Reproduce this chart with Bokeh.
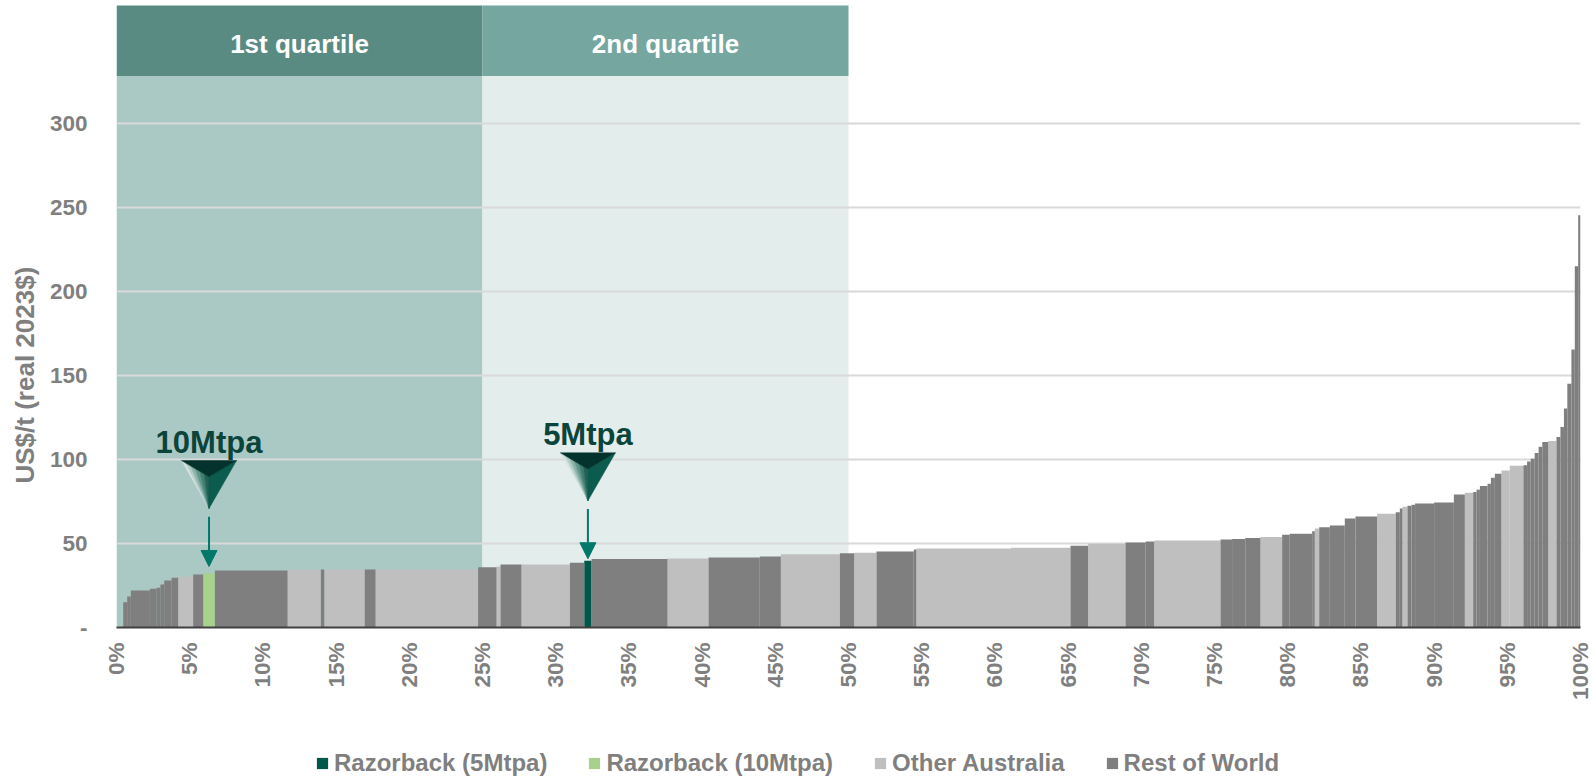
import math
from bokeh.plotting import figure
from bokeh.layouts import column
from bokeh.models import (ColumnDataSource, Range1d, FixedTicker, Legend, LegendItem,
                          Title, Arrow, NormalHead, PrintfTickFormatter)
from bokeh.core.properties import value
from bokeh.embed import file_html
from bokeh.resources import INLINE

# ---------------- data ----------------
# cumulative capacity (%) at the left edge of each bar; the last bar ends at 100 %
cap_left = [0.46, 0.73, 0.98, 2.28, 2.73, 3.00, 3.26, 3.76, 4.21, 5.24,
            5.92, 6.72, 11.68, 13.96, 14.19, 16.96, 17.69, 24.70, 25.96, 26.23,
            27.66, 30.97, 31.95, 32.45, 37.64, 40.44, 43.94, 45.38, 49.41, 50.39,
            51.91, 54.46, 54.64, 61.10, 65.16, 66.37, 68.92, 70.30, 70.88, 75.41,
            76.20, 77.10, 78.14, 79.62, 80.14, 81.67, 81.85, 82.15, 82.88, 83.90,
            84.63, 86.11, 87.38, 87.66, 87.84, 88.18, 88.46, 88.70, 90.00, 91.35,
            92.10, 92.67, 92.90, 93.13, 93.65, 93.88, 94.15, 94.60, 95.17, 96.10,
            96.35, 96.60, 96.87, 97.14, 97.39, 97.80, 98.36, 98.63, 98.87, 99.10,
            99.38, 99.61, 99.84]
cap_end = 100.0
# cost, US$/t (real 2023$)
cost = [15.0, 18.5, 22.0, 23.0, 23.6, 25.6, 28.0, 29.6, 30.4, 31.5,
        32.3, 33.9, 34.3, 34.5, 34.5, 34.5, 34.5, 35.9, 36.3, 37.5,
        37.5, 38.5, 39.7, 40.7, 41.1, 41.7, 42.3, 43.5, 44.2, 44.4,
        45.2, 46.4, 47.0, 47.5, 48.6, 49.8, 50.6, 51.2, 51.8, 52.3,
        52.7, 53.2, 53.8, 55.2, 55.8, 57.3, 58.9, 59.7, 60.7, 64.9,
        66.1, 67.7, 68.5, 70.8, 71.8, 72.4, 73.0, 73.8, 74.3, 79.1,
        80.2, 80.6, 82.0, 84.1, 85.5, 89.1, 91.5, 93.4, 96.2, 96.5,
        98.8, 100.4, 103.8, 107.5, 110.3, 110.9, 113.3, 119.2, 130.2, 145.0,
        165.3, 214.9, 245.2]
# R = Rest of World, A = Other Australia, G = Razorback (10Mtpa), K = Razorback (5Mtpa)
group_code = list("RRRRRRRR" "ARGRARARARAR" "ARKRARRARARRAA"
                  "RARRARRRARRRARRRRARRARRRRR" "A" "RRRRRR" "AA" "RRRRRR" "A" "RRRRRRR")

series_names = ["Razorback (5Mtpa)", "Razorback (10Mtpa)", "Other Australia", "Rest of World"]
series_codes = ["K", "G", "A", "R"]
series_colors = ["#02574b", "#a9d18e", "#bfbfbf", "#7f7f7f"]

quartile_names = ["1st quartile", "2nd quartile"]
quartile_from = [0, 25]
quartile_to = [25, 50]
quartile_body_colors = ["#aac9c4", "#e3edec"]
quartile_head_colors = ["#5a8b83", "#75a69f"]

x_ticks = list(range(0, 101, 5))
y_ticks = [0, 50, 100, 150, 200, 250, 300]

callout_labels = ["10Mtpa", "5Mtpa"]
callout_codes = ["G", "K"]
callout_gap = [4.0, 1.2]

# ---------------- figure ----------------
FONT = "Liberation Sans"
GREY = "#7f7f7f"
TEAL = "#00796b"

cap_right = cap_left[1:] + [cap_end]

p = figure(width=1594, height=735, output_backend="svg", toolbar_location=None,
           x_range=Range1d(0, 100), y_range=Range1d(0, 370),
           min_border_left=115, min_border_right=14, min_border_top=5,
           min_border_bottom=108)
p.outline_line_color = None
p.background_fill_color = "white"
p.border_fill_color = "white"

# quartile shading and header bands
p.quad(left=quartile_from, right=quartile_to, bottom=0, top=328,
       fill_color=quartile_body_colors, line_color=None, level="image")
p.quad(left=quartile_from, right=quartile_to, bottom=328, top=400,
       fill_color=quartile_head_colors, line_color=None, level="image")
p.text(x=[(a + b) / 2 for a, b in zip(quartile_from, quartile_to)], y=[347.2] * 2,
       text=quartile_names, text_align="center", text_baseline="middle",
       text_color="white", text_font=value(FONT), text_font_style="bold",
       text_font_size="26px")

# grid
p.xgrid.visible = False
p.ygrid.ticker = FixedTicker(ticks=y_ticks[1:])
p.ygrid.grid_line_color = "#d9d9d9"
p.ygrid.grid_line_width = 2

# bars
for name, code, color in zip(series_names, series_codes, series_colors):
    idx = [i for i, g in enumerate(group_code) if g == code]
    src = ColumnDataSource(dict(left=[cap_left[i] for i in idx],
                                right=[cap_right[i] for i in idx],
                                top=[cost[i] for i in idx]))
    p.quad(left="left", right="right", top="top", bottom=0,
           source=src, fill_color=color, line_color=None)

# callouts (arrow + pyramid marker + label) above the Razorback bars
for lab, code, gap in zip(callout_labels, callout_codes, callout_gap):
    i = group_code.index(code)
    xc = (cap_left[i] + cap_right[i]) / 2
    tip = cost[i] + gap
    p.add_layout(Arrow(x_start=xc, y_start=tip + 29.6, x_end=xc, y_end=tip,
                       line_color=TEAL, line_width=2,
                       end=NormalHead(size=16, fill_color=TEAL, line_color=TEAL)))
    apex_y = tip + 34.5
    top_y = tip + 63.0
    c_y = top_y - (top_y - apex_y) * 0.34
    hw = 1.88
    TL = (xc - hw, top_y)
    TR = (xc + hw, top_y)
    C = (xc, c_y)
    A = (xc, apex_y)
    xs, ys, cols = [], [], []
    grad = ["#d5e2df", "#b3cdc7", "#8cb3aa", "#63978b", "#3f7d70", "#236055"]
    n = len(grad)
    for k in range(n):
        p0 = (TL[0] + (C[0] - TL[0]) * k / n, TL[1] + (C[1] - TL[1]) * k / n)
        p1 = (TL[0] + (C[0] - TL[0]) * (k + 1) / n, TL[1] + (C[1] - TL[1]) * (k + 1) / n)
        xs.append([A[0], p0[0], p1[0]])
        ys.append([A[1], p0[1], p1[1]])
        cols.append(grad[k])
    xs.append([TR[0], A[0], C[0]]); ys.append([TR[1], A[1], C[1]]); cols.append("#0b5b4f")
    xs.append([TL[0], TR[0], C[0]]); ys.append([TL[1], TR[1], C[1]]); cols.append("#03332c")
    p.patches(xs=xs, ys=ys, fill_color=cols, line_color=cols, line_width=0.5)
    p.text(x=[xc], y=[tip + 74.0], text=[lab], text_align="center",
           text_baseline="middle", text_color="#0b443b", text_font=value(FONT),
           text_font_style="bold", text_font_size="31px")

# axes
p.xaxis.ticker = FixedTicker(ticks=x_ticks)
p.xaxis.formatter = PrintfTickFormatter(format="%d%%")
p.xaxis.major_label_orientation = math.pi / 2
p.xaxis.axis_line_color = "#404040"
p.xaxis.axis_line_width = 2
p.xaxis.major_tick_line_color = None
p.xaxis.minor_tick_line_color = None
p.xaxis.major_tick_out = 0
p.xaxis.major_tick_in = 0
p.xaxis.major_label_standoff = 15
p.xaxis.major_label_text_font = FONT
p.xaxis.major_label_text_font_style = "bold"
p.xaxis.major_label_text_font_size = "22.5px"
p.xaxis.major_label_text_color = GREY

p.yaxis.ticker = FixedTicker(ticks=y_ticks)
p.yaxis.major_label_overrides = {0: "-"}
p.yaxis.axis_line_color = None
p.yaxis.major_tick_line_color = None
p.yaxis.minor_tick_line_color = None
p.yaxis.major_tick_out = 0
p.yaxis.major_tick_in = 0
p.yaxis.major_label_standoff = 29
p.yaxis.major_label_text_font = FONT
p.yaxis.major_label_text_font_style = "bold"
p.yaxis.major_label_text_font_size = "22.5px"
p.yaxis.major_label_text_color = GREY

p.add_layout(Title(text="US$/t (real 2023$)", align="left", offset=144,
                   standoff=14, text_font=FONT, text_font_style="bold",
                   text_font_size="26px", text_color=GREY), "left")

# legend strip below the chart (legend swatches use off-frame proxy quads)
leg = figure(width=1594, height=42, output_backend="svg", toolbar_location=None,
             x_range=Range1d(0, 1), y_range=Range1d(0, 1),
             x_axis_location=None, y_axis_location=None, min_border=0)
leg.outline_line_color = None
leg.grid.visible = False
items = []
for name, color in zip(series_names, series_colors):
    r = leg.quad(left=[2], right=[3], top=[1], bottom=[0], fill_color=color, line_color=None)
    items.append(LegendItem(label=name, renderers=[r]))
legend = Legend(items=items, orientation="horizontal", location=(199, 0),
                glyph_width=14, glyph_height=14, label_standoff=5, spacing=40,
                padding=0, margin=0, border_line_color=None, background_fill_alpha=0,
                label_text_font=FONT, label_text_font_style="bold",
                label_text_font_size="24px", label_text_color=GREY)
leg.add_layout(legend)

open("out.html", "w").write(file_html(column(p, leg, spacing=0), INLINE))
